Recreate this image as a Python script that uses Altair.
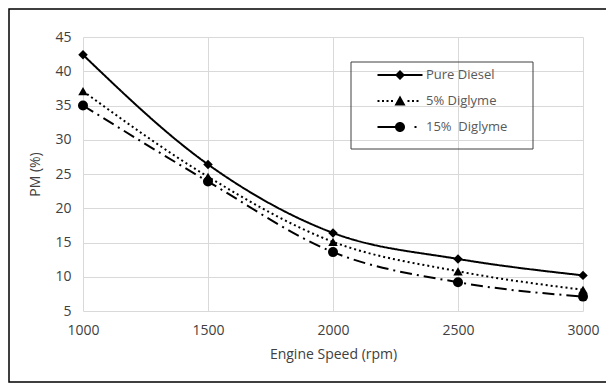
import altair as alt
import pandas as pd

speeds = [1000, 1500, 2000, 2500, 3000]
series_names = ["Pure Diesel", "5% Diglyme", "15%\u00a0 Diglyme"]
pure_diesel = [42.4, 26.4, 16.4, 12.6, 10.2]
diglyme_5 = [37.1, 24.6, 15.1, 10.8, 8.1]
diglyme_15 = [35.0, 23.9, 13.6, 9.2, 7.1]
x_ticks = [1000, 1500, 2000, 2500, 3000]
y_ticks = [5, 10, 15, 20, 25, 30, 35, 40, 45]

dashes = [[1, 0], [2, 3], [12, 5, 2, 5]]
shapes = ["diamond", "triangle-up", "circle"]


def seg(a, b):
    return f"M{a},-0.1L{b},-0.1L{b},0.1L{a},0.1Z"


# legend glyphs: line sample + marker, drawn as filled shapes (unit = 10px)
legend_paths = [
    seg(-2.25, 2.25) + "M-0.5,0L0,-0.5L0.5,0L0,0.5Z",
    "".join(seg(s, s + 0.2) for s in [-2.25, -1.8, -1.35, -0.9, 0.75, 1.2, 1.65])
    + "M-0.55,0.45L0,-0.55L0.55,0.45Z",
    seg(-2.25, -0.4) + seg(1.45, 1.65)
    + "M-0.5,0A0.5,0.5,0,1,1,0.5,0A0.5,0.5,0,1,1,-0.5,0Z",
]

rows = []
for name, vals in zip(series_names, [pure_diesel, diglyme_5, diglyme_15]):
    for s, v in zip(speeds, vals):
        rows.append({"speed": s, "pm": v, "series": name})
df = pd.DataFrame(rows)

FONT = "Open Sans"
x_enc = alt.X("speed:Q", scale=alt.Scale(domain=[1000, 3000], nice=False),
              axis=alt.Axis(values=x_ticks, format="d", title="Engine Speed (rpm)"))
y_enc = alt.Y("pm:Q", scale=alt.Scale(domain=[5, 45], nice=False),
              axis=alt.Axis(values=y_ticks, format="d", title="PM (%)"))

base = alt.Chart(df)
layers = []
for name, dash, shp, sz in zip(series_names, dashes, shapes, [90, 90, 100]):
    sub = base.transform_filter(alt.datum.series == name)
    layers.append(sub.mark_line(interpolate="monotone", color="black", strokeWidth=2,
                                strokeDash=dash, strokeCap="butt").encode(x=x_enc, y=y_enc))
    layers.append(sub.mark_point(shape=shp, filled=True, color="black", opacity=1, size=sz)
                  .encode(x=x_enc, y=y_enc))

leg = alt.Legend(
    title=None, orient="none", legendX=268, legendY=28,
    symbolSize=400, symbolOffset=39, labelOffset=16,
    symbolFillColor="black", symbolStrokeColor="transparent", symbolStrokeWidth=0,
    symbolOpacity=1,
    padding=0, rowPadding=9, labelFont=FONT, labelFontSize=13,
    labelColor="#595959", labelLimit=200,
)
legend_layer = base.mark_point(filled=True, color="black", opacity=0).encode(
    x=x_enc, y=y_enc,
    shape=alt.Shape("series:N", scale=alt.Scale(domain=series_names, range=legend_paths), legend=leg),
)

legend_box = alt.Chart(alt.Data(values=[{}])).mark_rect(
    filled=False, stroke="#404040", strokeWidth=1, clip=False
).encode(x=alt.value(268), x2=alt.value(450), y=alt.value(25), y2=alt.value(112))

frame = alt.Chart(alt.Data(values=[{}])).mark_rect(
    filled=False, stroke="black", strokeWidth=1.5, clip=False
).encode(x=alt.value(-74), x2=alt.value(540), y=alt.value(-28), y2=alt.value(345))

chart = alt.layer(frame, *layers, legend_layer, legend_box).properties(
    width=500, height=274,
    autosize=alt.AutoSizeParams(type="none"),
    padding={"left": 75, "top": 29, "right": 23, "bottom": 73},
    background="white",
).configure_view(stroke=None).configure_axis(
    grid=True, gridColor="#d9d9d9", gridWidth=1, domain=False, ticks=False,
    labelFlush=False,
    labelFont=FONT, labelFontSize=14, labelColor="#404040",
    titleFont=FONT, titleFontSize=14, titleColor="#404040", titleFontWeight="normal",
).configure_axisX(labelPadding=12, titlePadding=10).configure_axisY(labelPadding=12, titlePadding=12)

chart.save("out.html", embed_options={"renderer": "svg", "actions": False})
